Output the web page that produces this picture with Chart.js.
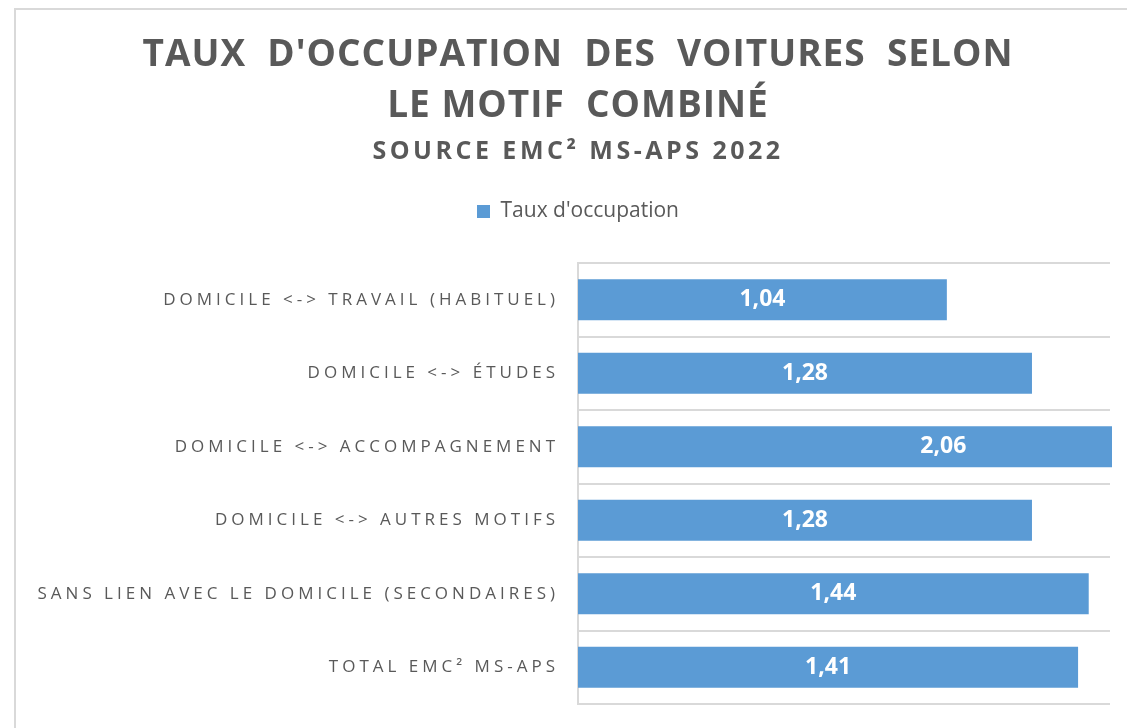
<!DOCTYPE html>
<html lang="fr">
<head>
<meta charset="utf-8">
<script src="https://cdn.jsdelivr.net/npm/chart.js@4.4.1/dist/chart.umd.min.js"></script>
<style>
  html, body { margin: 0; padding: 0; background: #fff; overflow: hidden; }
  .frame { position: absolute; left: 14px; top: 8px; width: 1124px; height: 760px; border: 2px solid #d9d9d9; background: #fff; }
  .frame canvas { display: block; }
</style>
</head>
<body>
<div class="frame"><canvas id="occupation-chart" width="1124" height="730"></canvas></div>
<script>
const categories = [
    'DOMICILE <-> TRAVAIL (HABITUEL)',
    'DOMICILE <-> ÉTUDES',
    'DOMICILE <-> ACCOMPAGNEMENT',
    'DOMICILE <-> AUTRES MOTIFS',
    'SANS LIEN AVEC LE DOMICILE (SECONDAIRES)',
    'TOTAL EMC² MS-APS'
];
const occupation = [1.04, 1.28, 2.06, 1.28, 1.44, 1.41];
const seriesLabel = "Taux d'occupation";
const titleLines = ["TAUX  D'OCCUPATION  DES  VOITURES  SELON", 'LE MOTIF  COMBINÉ'];
const subtitleText = 'SOURCE EMC² MS-APS 2022';
const axisMax = 1.5;

const grey = '#595959';
const lineGrey = '#d9d9d9';
const barBlue = '#5b9bd5';

Chart.defaults.font.family = '"Open Sans", sans-serif';

// canvas has no css letter-spacing, so wrap the draw calls that need it
const spaced = (obj, method, px) => {
    const original = obj[method];
    obj[method] = function (...args) {
        this.ctx.save();
        this.ctx.letterSpacing = px;
        original.apply(this, args);
        this.ctx.restore();
    };
};

const letterSpacing = {
    id: 'letterSpacing',
    afterLayout(chart) {
        chart.boxes.forEach((box) => {
            if (box.$spaced || box === chart.legend) return;
            box.$spaced = true;
            if (box.id === 'y') {
                spaced(box, 'drawLabels', '4px');
            } else if (box.options && box.options.text) {
                spaced(box, 'draw', Array.isArray(box.options.text) ? '1px' : '3.5px');
            }
        });
    }
};

// values in the middle of each bar, french decimal comma
const valueLabels = {
    id: 'valueLabels',
    afterDatasetsDraw(chart) {
        const ctx = chart.ctx;
        const meta = chart.getDatasetMeta(0);
        ctx.save();
        ctx.font = 'bold 23px "Open Sans"';
        ctx.fillStyle = '#ffffff';
        ctx.textAlign = 'center';
        ctx.textBaseline = 'middle';
        meta.data.forEach((bar, i) => {
            const pos = bar.getCenterPoint();
            ctx.fillText(occupation[i].toFixed(2).replace('.', ','), pos.x, pos.y);
        });
        ctx.restore();
    }
};

const occupationCanvas = document.getElementById('occupation-chart');
let occupationChart = new Chart(occupationCanvas, {
    type: 'bar',
    data: {
        labels: categories,
        datasets: [{
            label: seriesLabel,
            data: occupation,
            backgroundColor: barBlue,
            borderWidth: 0,
            categoryPercentage: 1,
            barPercentage: 0.56,
            clip: { left: 0, top: 0, right: 2, bottom: 0 }
        }]
    },
    options: {
        responsive: false,
        animation: false,
        indexAxis: 'y',
        layout: {
            padding: { left: 0, right: 0, top: 0, bottom: 36 }
        },
        scales: {
            x: {
                position: 'top',
                min: 0,
                max: axisMax,
                grid: { display: false },
                border: { display: false },
                ticks: { display: false },
                afterFit: (scale) => { scale.height = 31; }
            },
            y: {
                grid: { color: lineGrey, lineWidth: 2, drawTicks: false },
                border: { color: lineGrey, width: 2 },
                ticks: {
                    color: grey,
                    padding: 19,
                    font: { size: 17 }
                },
                afterFit: (scale) => { scale.width = 562; }
            },
            // empty strip on the right so the plot stops short of the frame
            yRight: {
                type: 'category',
                position: 'right',
                grid: { display: false },
                border: { display: false },
                ticks: { display: false },
                afterFit: (scale) => { scale.width = 30; }
            }
        },
        plugins: {
            title: {
                display: true,
                text: titleLines,
                color: grey,
                font: { size: 37, weight: 'bold', lineHeight: 51 / 37 },
                padding: { top: 20, bottom: 0 }
            },
            subtitle: {
                display: true,
                text: subtitleText,
                color: grey,
                font: { size: 25, weight: 'bold' },
                padding: { top: 5, bottom: 24 }
            },
            legend: {
                labels: {
                    color: grey,
                    font: { size: 21 },
                    boxWidth: 13,
                    boxHeight: 13,
                    padding: 10
                }
            },
            tooltip: { enabled: false }
        }
    },
    plugins: [letterSpacing, valueLabels]
});
</script>
</body>
</html>
